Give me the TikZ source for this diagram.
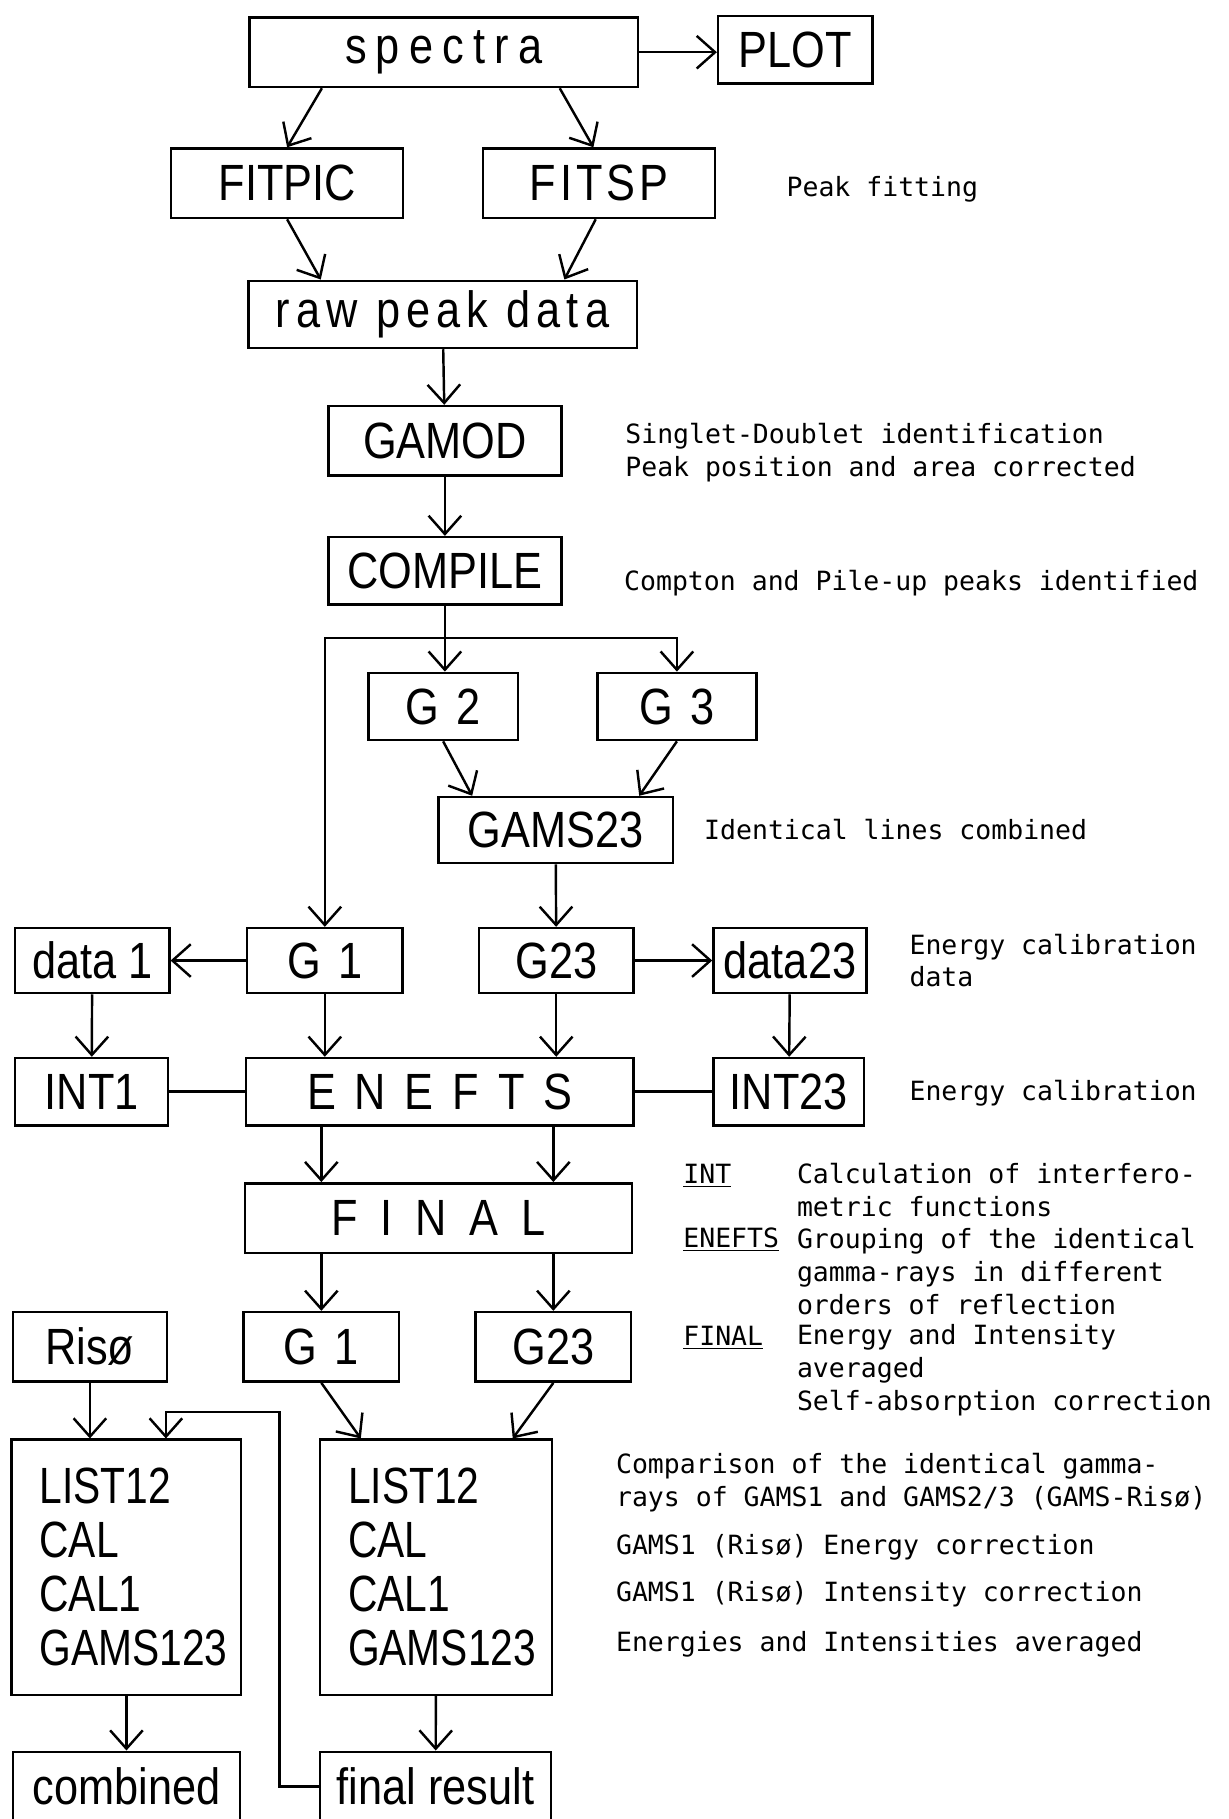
\documentclass[tikz,border=0pt]{standalone}
\usepackage{fontspec}
\setmainfont{Liberation Sans}[FakeStretch=0.85]
\newfontfamily\listfont{Liberation Sans}[FakeStretch=0.8]
\newfontfamily\notefont{DejaVu Sans Mono}
\usetikzlibrary{arrows.meta, positioning, calc}
\newcommand\lsp[2]{{\addfontfeature{LetterSpace=#1}#2}}

\begin{document}
\begin{tikzpicture}[
  x=0.02cm, y=-0.02cm,
  line width=1.2pt,
  font=\fontsize{25}{27}\selectfont,
  box/.style={draw, minimum height=1.16cm, inner sep=0pt, align=center},
  narrow/.style={box, minimum width=2.66cm},
  medium/.style={box, minimum width=4.02cm},
  wide/.style={box, minimum width=6.7cm},
  listbox/.style={draw, minimum width=3.96cm, minimum height=4.4cm,
                  text width=3.36cm, inner xsep=0.3cm, align=left,
                  font=\listfont\fontsize{25}{26.5}\selectfont},
  note/.style={font=\notefont\fontsize{13}{16}\selectfont, anchor=west,
               align=left, inner sep=0pt},
  flow/.style={-{Straight Barb[length=9pt,width=16pt]}}
]
  \path[use as bounding box, fill=white] (0,0) rectangle (1059,1568);

  % main chain
  \node[wide, minimum height=1.2cm] (spectra) at (382.5,45) {\lsp{18}{spectra}};
  \node[narrow] (plot) at (685.5,43) {PLOT};
  \node[medium, minimum height=1.2cm, minimum width=4.0cm] (fitpic) at (247.5,158) {FITPIC};
  \node[medium, minimum height=1.2cm, minimum width=4.0cm] (fitsp) at (516.5,158) {\lsp{8}{FITSP}};
  \node[wide] (raw) at (381.5,271) {\lsp{12}{raw peak data}};
  \node[medium, minimum height=1.2cm] (gamod) at (383.5,380) {GAMOD};
  \node[medium] (compile) at (383.5,492) {COMPILE};
  \node[narrow, minimum width=2.58cm] (g2) at (382,609) {G\,\,2};
  \node[narrow, minimum width=2.74cm] (g3) at (583.5,609) {G\,\,3};
  \node[medium, minimum width=4.04cm, minimum height=1.14cm] (gams23) at (479,715.5) {GAMS23};
  \node[narrow, minimum width=2.68cm, minimum height=1.12cm] (g1) at (280,828) {G\,\,1};
  \node[narrow, minimum height=1.12cm] (g23) at (479.5,828) {G23};
  \node[narrow, minimum height=1.12cm] (data1) at (79.5,828) {data 1};
  \node[narrow, minimum width=2.64cm, minimum height=1.12cm] (data23) at (681,828) {data23};
  \node[narrow, minimum width=2.64cm] (int1) at (79,941) {INT1};
  \node[wide, minimum width=6.68cm] (enefts) at (379,941) {\lsp{37}{ENEFTS}};
  \node[narrow, minimum width=2.6cm] (int23) at (680,941) {INT23};
  \node[wide, minimum width=6.68cm, minimum height=1.2cm] (final) at (378,1050) {\lsp{45}{FINAL}};
  \node[narrow, minimum height=1.2cm] (riso) at (77.5,1161) {Risø};
  \node[narrow, minimum width=2.68cm, minimum height=1.2cm] (g1b) at (277,1161) {G\,\,1};
  \node[narrow, minimum width=2.68cm, minimum height=1.2cm] (g23b) at (477,1161) {G23};
  \node[listbox, text width=3.0cm, inner xsep=0.48cm] (lista) at (109,1351) {LIST12\\CAL\\CAL1\\GAMS123};
  \node[listbox, minimum width=4.0cm, text width=3.04cm, inner xsep=0.48cm] (listb) at (376,1351) {LIST12\\CAL\\CAL1\\GAMS123};
  \node[medium, minimum width=3.92cm, minimum height=1.2cm] (combined) at (109,1540) {combined};
  \node[medium, minimum width=3.98cm, minimum height=1.2cm] (result) at (375.5,1540) {final result};

  % connectors
  \draw[flow] (spectra.east) -- (spectra.east -| plot.west);
  \draw[flow] ($(spectra.south)+(-105,0)$) -- (fitpic.north);
  \draw[flow] ($(spectra.south)+(100,0)$) -- ($(fitsp.north)+(-5,0)$);
  \draw[flow] (fitpic.south) -- ($(raw.north)+(-105,0)$);
  \draw[flow] ($(fitsp.south)+(-3,0)$) -- ($(raw.north)+(105,0)$);
  \draw[flow] (raw) -- (gamod);
  \draw[flow] (gamod) -- (compile);
  \draw[flow] (compile.south) -- (compile.south |- g2.north);
  \coordinate (split) at ($(compile.south)+(0,28)$);
  \draw[flow] (split) -| (g1.north);
  \draw[flow] (split) -| (g3.north);
  \draw[flow] (g2.south) -- ($(gams23.north)+(-72,0)$);
  \draw[flow] (g3.south) -- ($(gams23.north)+(72,0)$);
  \draw[flow] (gams23) -- (g23);
  \draw[flow] (g1.west) -- (data1.east);
  \draw[flow] (g23.east) -- (data23.west);
  \draw[flow] (data1) -- (int1);
  \draw[flow] (g1.south) -- (g1.south |- enefts.north);
  \draw[flow] (g23.south) -- (g23.south |- enefts.north);
  \draw[flow] (data23) -- (int23);
  \draw (int1) -- (enefts);
  \draw (enefts) -- (int23);
  \draw[flow] (g1b |- enefts.south) -- (g1b |- final.north);
  \draw[flow] (g23b |- enefts.south) -- (g23b |- final.north);
  \draw[flow] (g1b |- final.south) -- (g1b.north);
  \draw[flow] (g23b |- final.south) -- (g23b.north);
  \draw[flow] (riso) -- (riso |- lista.north);
  \draw[flow] (g1b.south) -- ($(listb.north)+(-65,0)$);
  \draw[flow] (g23b.south) -- ($(listb.north)+(66,0)$);
  \draw[flow] (lista) -- (combined);
  \draw[flow] (listb) -- (result);
  \draw[flow] (result.west) -| ($(lista.north)+(132,-23)$) -| ($(lista.north)+(34,0)$);

  % notes
  \node[note] (fitnote) at (677,163) {Peak fitting};
  \node[note] (gamodnote) at (538,390) {Singlet-Doublet identification\\Peak position and area corrected};
  \node[note] (compnote) at (537,503) {Compton and Pile-up peaks identified};
  \node[note] (gamsnote) at (606,715) {Identical lines combined};
  \node[note] (calnote) at (783,828) {Energy calibration\\data};
  \node[note] (enenote) at (783,942) {Energy calibration};

  % legend
  \node[note, anchor=base west] (intkey) at (588,1020) {\underline{INT}};
  \node[note, anchor=base west] (enekey) at (588,1075) {\underline{ENEFTS}};
  \node[note, anchor=base west] (finkey) at (588,1160) {\underline{FINAL}};
  \node[note] (intdesc) at (686,1026) {Calculation of interfero-\\metric functions};
  \node[note, font=\notefont\fontsize{13}{16.2}\selectfont] (enedesc) at (686,1096)
    {Grouping of the identical\\gamma-rays in different\\orders of reflection};
  \node[note, font=\notefont\fontsize{13}{16.2}\selectfont] (findesc) at (686,1181)
    {Energy and Intensity\\averaged\\Self-absorption correction};
  \node[note] (cmpnote) at (530,1278) {Comparison of the identical gamma-\\rays of GAMS1 and GAMS2/3 (GAMS-Risø)};
  \node[note] (encorr) at (530,1334) {GAMS1 (Risø) Energy correction};
  \node[note] (incorr) at (530,1374) {GAMS1 (Risø) Intensity correction};
  \node[note] (avnote) at (530,1417) {Energies and Intensities averaged};
\end{tikzpicture}
\end{document}
